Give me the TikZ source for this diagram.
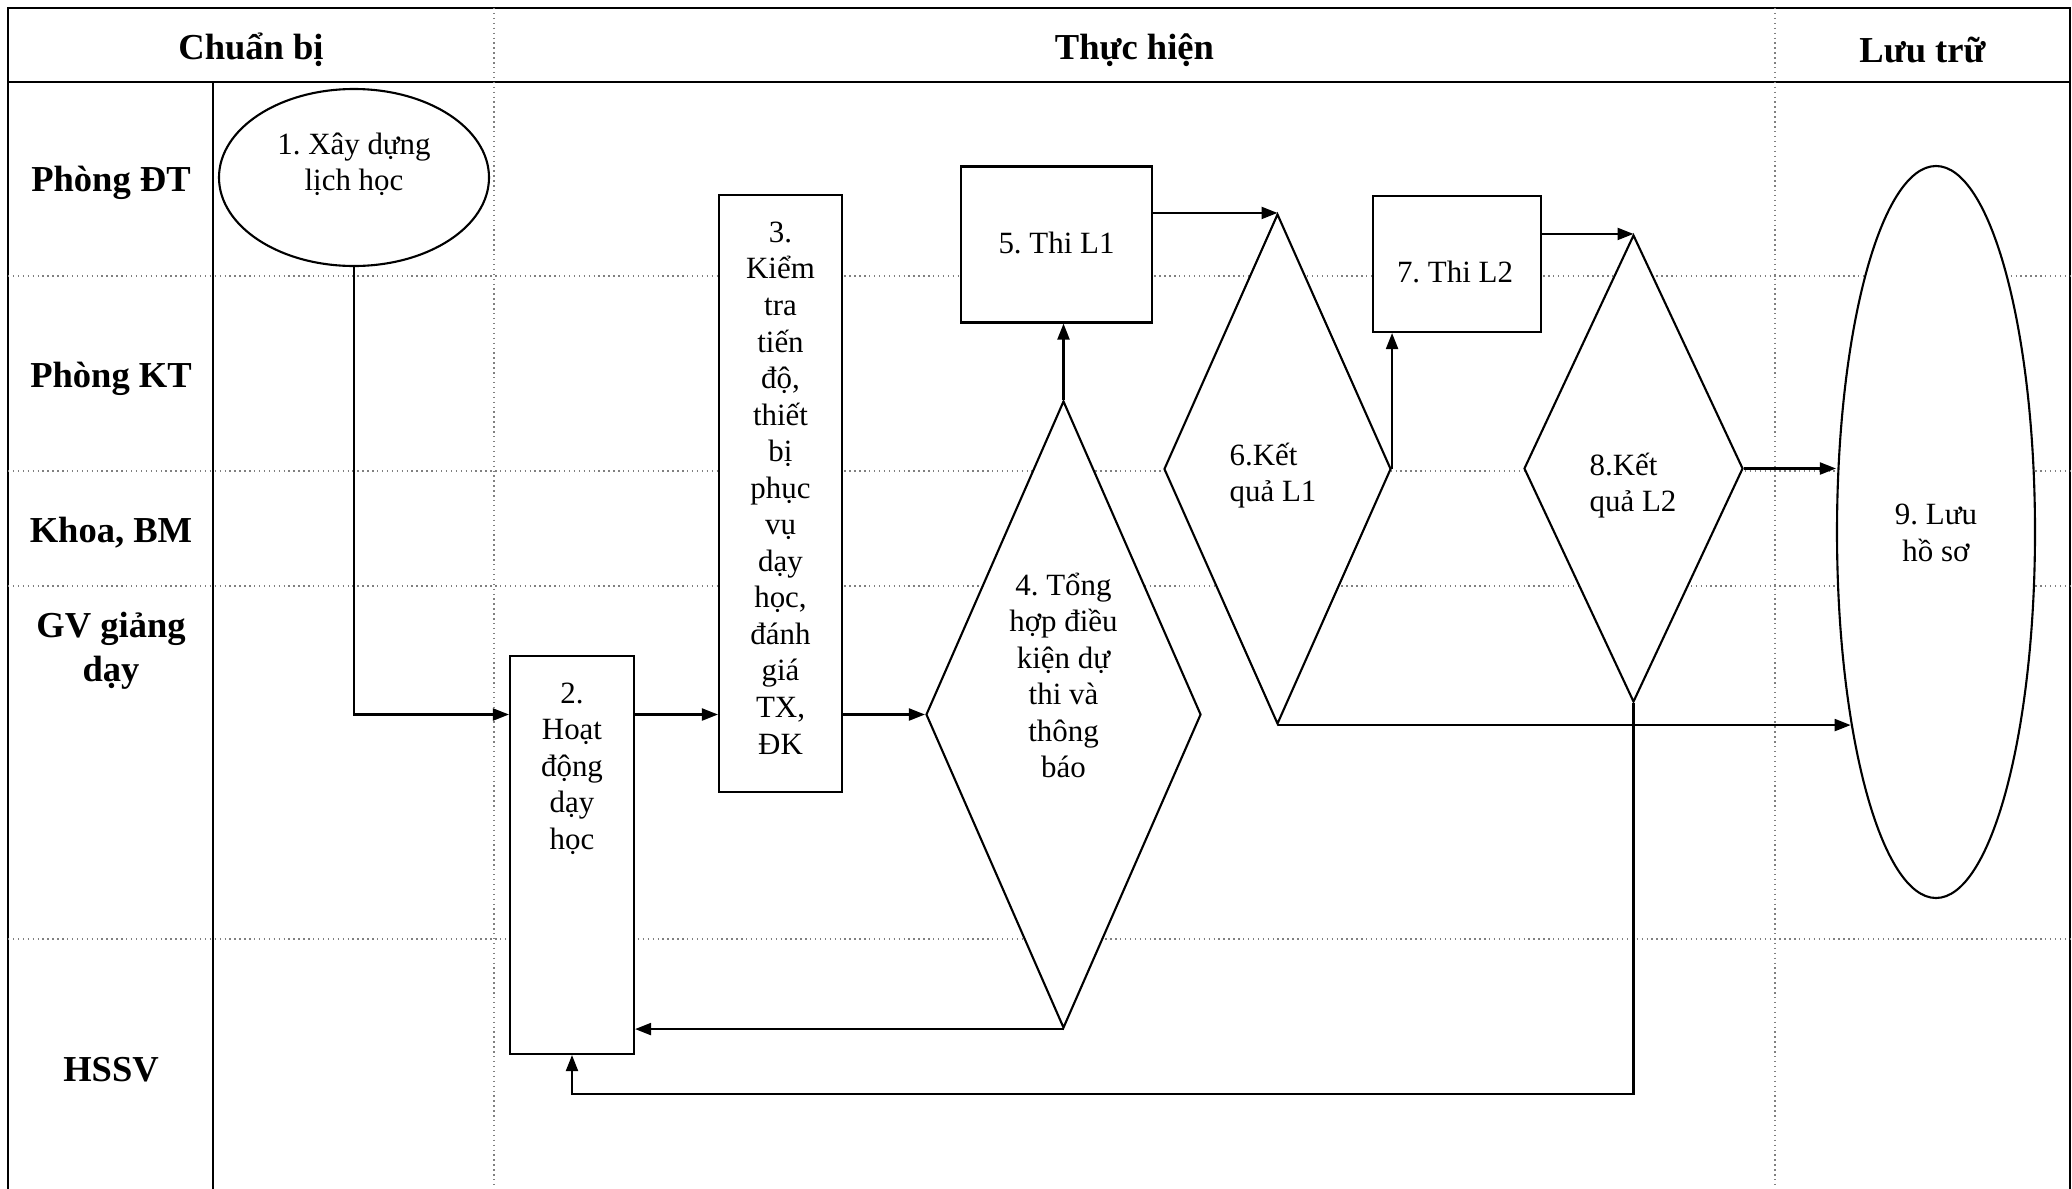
\documentclass[tikz,border=0pt]{standalone}
\usepackage{fontspec}
\setmainfont{Liberation Serif}
\usetikzlibrary{arrows.meta,positioning,shapes.geometric,calc}
\frenchspacing

\begin{document}
\begin{tikzpicture}[
  lane/.style={font=\fontsize{10.4}{12.5}\selectfont\bfseries,align=center},
  txt/.style={font=\fontsize{8.8}{10.4}\selectfont,align=center},
  pbox/.style={draw,fill=white,line width=0.6pt,inner sep=0pt},
  pdia/.style={draw,fill=white,diamond,line width=0.6pt,inner sep=0pt},
  pell/.style={draw,fill=white,ellipse,line width=0.6pt,inner sep=0pt},
  sep/.style={gray,line width=0.4pt,densely dotted},
  arr/.style={-{Triangle[length=1.6mm,width=1.2mm]},line width=0.6pt}
]
  \useasboundingbox (0,0) rectangle (20.72,-11.89);

  % Frame and lanes
  \draw[line width=0.7pt] (0.08,-11.89) -- (0.08,-0.08) -- (20.70,-0.08) -- (20.70,-11.89);
  \draw[line width=0.7pt] (0.08,-0.82) -- (20.70,-0.82);
  \draw[line width=0.6pt] (2.13,-0.82) -- (2.13,-11.89);
  \foreach \x in {4.94,17.75} \draw[sep] (\x,-0.08) -- (\x,-11.89);
  \foreach \y in {2.76,4.71,5.86,9.39} \draw[sep] (0.08,-\y) -- (20.70,-\y);

  % Headers
  \node[lane] (hprep) at (2.51,-0.50) {Chuẩn bị};
  \node[lane] (hexec) at (11.345,-0.50) {Thực hiện};
  \node[lane] (hstore) at (19.225,-0.50) {Lưu trữ};

  % Lane labels
  \node[lane] (ldt) at (1.11,-1.83) {Phòng ĐT};
  \node[lane] (lkt) at (1.11,-3.79) {Phòng KT};
  \node[lane] (lkhoa) at (1.11,-5.33) {Khoa, BM};
  \node[lane] (lgv) at (1.11,-6.51) {GV giảng\\dạy};
  \node[lane] (lhssv) at (1.11,-10.70) {HSSV};

  % Steps
  \node[pell,minimum width=2.70cm,minimum height=1.77cm] (s1) at (3.54,-1.775) {};
  \node[txt] (t1) at (3.54,-1.645) {1. Xây dựng\\lịch học};

  \node[pbox,minimum width=1.24cm,minimum height=3.98cm] (s2) at (5.72,-8.55) {};
  \node[txt] (t2) at (5.72,-7.685) {2.\\Hoạt\\động\\dạy\\học};

  \node[pbox,minimum width=1.23cm,minimum height=5.97cm] (s3) at (7.805,-4.935) {};
  \node[txt] (t3) at (7.805,-4.88) {3.\\Kiểm\\tra\\tiến\\độ,\\thiết\\bị\\phục\\vụ\\dạy\\học,\\đánh\\giá\\TX,\\ĐK};

  \node[pdia,minimum width=2.75cm,minimum height=6.27cm] (s4) at (10.635,-7.145) {};
  \node[txt] (t4) at (10.635,-6.755) {4. Tổng\\hợp điều\\kiện dự\\thi và\\thông\\báo};

  \node[pbox,minimum width=1.91cm,minimum height=1.56cm] (s5) at (10.565,-2.445) {};
  \node[txt] (t5) at (10.565,-2.43) {5. Thi L1};

  \node[pdia,minimum width=2.27cm,minimum height=5.10cm] (s6) at (12.775,-4.69) {};
  \node[txt,align=left] (t6) at (12.73,-4.755) {6.Kết\\quả L1};

  \node[pbox,minimum width=1.68cm,minimum height=1.36cm] (s7) at (14.57,-2.64) {};
  \node[txt] (t7) at (14.55,-2.72) {7. Thi L2};

  \node[pdia,minimum width=2.19cm,minimum height=4.67cm] (s8) at (16.335,-4.685) {};
  \node[txt,align=left] (t8) at (16.33,-4.855) {8.Kết\\quả L2};

  \node[pell,minimum width=1.98cm,minimum height=7.32cm] (s9) at (19.36,-5.32) {};
  \node[txt] (t9) at (19.36,-5.33) {9. Lưu\\hồ sơ};

  % Flow
  \draw[arr] (s1.south) |- (s2.west |- s4.west);
  \draw[arr] (s2.east |- s4.west) -- (s3.west |- s4.west);
  \draw[arr] (s3.east |- s4.west) -- (s4.west);
  \draw[arr] (s4.north) -- (s4.north |- s5.south);
  \draw[arr] (s5.east |- s6.north) -- (s6.north);
  \draw[arr] (s6.east) -- (s6.east |- s7.south);
  \draw[arr] (s7.east |- s8.north) -- (s8.north);
  \draw[arr] (s8.east) -- (s8.east -| s9.west);
  \draw[arr] (s6.south) -- (s6.south -| s9.246);
  \draw[arr] (s4.south) -- (s4.south -| s2.east);
  \draw[arr] (s8.south) -- ++(0,-3.91) -| (s2.south);
\end{tikzpicture}
\end{document}
